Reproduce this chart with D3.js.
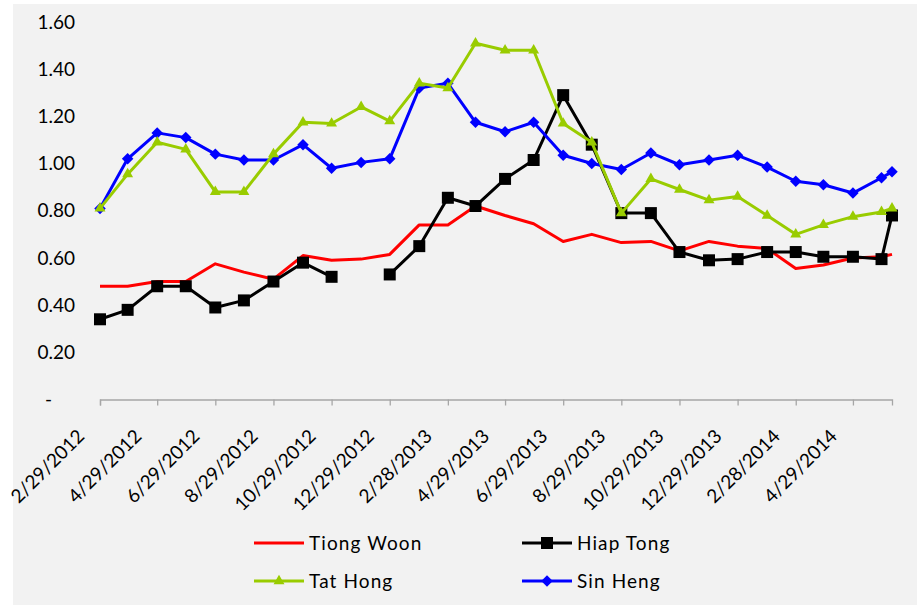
<!DOCTYPE html>
<html>
<head>
<meta charset="utf-8">
<script src="https://cdn.jsdelivr.net/npm/d3@7"></script>
<style>
  html, body { margin: 0; padding: 0; background: #fff; }
  svg { display: block; font-family: Lato, sans-serif; }
</style>
</head>
<body>
<svg width="917" height="605"></svg>
<script>
var dates = ['2/29/2012', '3/29/2012', '4/29/2012', '5/29/2012', '6/29/2012', '7/29/2012',
  '8/29/2012', '9/29/2012', '10/29/2012', '11/29/2012', '12/29/2012', '1/29/2013',
  '2/28/2013', '3/29/2013', '4/29/2013', '5/29/2013', '6/29/2013', '7/29/2013',
  '8/29/2013', '9/29/2013', '10/29/2013', '11/29/2013', '12/29/2013', '1/29/2014',
  '2/28/2014', '3/29/2014', '4/29/2014', '5/29/2014', '6/9/2014']

var tiongWoon = [0.48, 0.48, 0.50, 0.50, 0.575, 0.54, 0.51, 0.61, 0.59, 0.595, 0.615, 0.74,
  0.74, 0.82, 0.78, 0.745, 0.67, 0.70, 0.665, 0.67, 0.63, 0.67, 0.65, 0.64,
  0.555, 0.57, 0.60, 0.605, 0.615]
var hiapTong = [0.34, 0.38, 0.48, 0.48, 0.39, 0.42, 0.50, 0.58, 0.52, null, 0.53, 0.65,
  0.855, 0.82, 0.935, 1.015, 1.29, 1.08, 0.79, 0.79, 0.625, 0.59, 0.595, 0.625,
  0.625, 0.605, 0.605, 0.595, 0.78]
var tatHong = [0.81, 0.955, 1.09, 1.06, 0.88, 0.88, 1.04, 1.175, 1.17, 1.24, 1.18, 1.34,
  1.32, 1.51, 1.48, 1.48, 1.17, 1.09, 0.79, 0.935, 0.89, 0.845, 0.86, 0.78,
  0.70, 0.74, 0.775, 0.795, 0.81]
var sinHeng = [0.81, 1.02, 1.13, 1.11, 1.04, 1.015, 1.015, 1.08, 0.98, 1.005, 1.02, 1.32,
  1.34, 1.175, 1.135, 1.175, 1.035, 1.00, 0.975, 1.045, 0.995, 1.015, 1.035, 0.985,
  0.925, 0.91, 0.875, 0.94, 0.965]

var tickDates = ['2/29/2012', '4/29/2012', '6/29/2012', '8/29/2012', '10/29/2012', '12/29/2012',
  '2/28/2013', '4/29/2013', '6/29/2013', '8/29/2013', '10/29/2013', '12/29/2013',
  '2/28/2014', '4/29/2014']
var yTicks = [0, 0.2, 0.4, 0.6, 0.8, 1.0, 1.2, 1.4, 1.6]

var parse = d3.timeParse('%m/%d/%Y')
var svg = d3.select('svg')

// chart area background
svg.append('rect')
  .attr('x', 13).attr('y', 4)
  .attr('width', 904).attr('height', 601)
  .attr('fill', '#f2f2f2')

var x = d3.scaleTime()
  .domain([parse(dates[0]), parse(dates[dates.length - 1])])
  .range([100, 892])
var y = d3.scaleLinear().domain([0, 1.6]).range([399.5, 22])

// y axis, no line, accounting style zero
var yAxis = svg.append('g')
  .attr('transform', 'translate(75,0)')
  .call(d3.axisLeft(y).tickValues(yTicks).tickSize(0).tickPadding(0)
    .tickFormat(function(d) { return d === 0 ? '-' : d3.format('.2f')(d) }))
yAxis.select('.domain').remove()
yAxis.selectAll('text')
  .attr('font-size', 19).attr('font-family', 'Lato, sans-serif').attr('fill', '#000')
  .attr('x', function(d) { return d === 0 ? -23 : 0 })

// x axis
var xAxis = svg.append('g')
  .attr('transform', 'translate(0,399.5)')
  .call(d3.axisBottom(x).tickValues(tickDates.map(parse)).tickSize(6)
    .tickFormat(d3.timeFormat('%-m/%-d/%Y')))
xAxis.select('.domain').attr('stroke', '#a6a6a6').attr('stroke-width', 1.3)
xAxis.selectAll('.tick line').attr('stroke', '#a6a6a6').attr('stroke-width', 1.3)
xAxis.selectAll('text')
  .attr('font-size', 19).attr('font-family', 'Lato, sans-serif').attr('fill', '#000')
  .attr('y', 0).attr('dy', 0)
  .attr('text-anchor', 'end')
  .attr('transform', 'translate(-15,38) rotate(-45)')

var series = [
  { name: 'Tiong Woon', values: tiongWoon, color: '#ff0000', marker: null },
  { name: 'Hiap Tong', values: hiapTong, color: '#000000', marker: 'square' },
  { name: 'Sin Heng', values: sinHeng, color: '#0000ff', marker: 'diamond' },
  { name: 'Tat Hong', values: tatHong, color: '#99cc00', marker: 'triangle' }
]

function markerPath(type) {
  if (type === 'square') return d3.symbol(d3.symbolSquare, 144)()
  if (type === 'diamond') return d3.symbol(d3.symbolSquare, 66)()
  return d3.symbol(d3.symbolTriangle, 52)()
}
function markerRotate(type) {
  return type === 'diamond' ? ' rotate(45)' : ''
}

var line = d3.line()
  .defined(function(d) { return d.v != null })
  .x(function(d) { return x(d.date) })
  .y(function(d) { return y(d.v) })

series.forEach(function(s) {
  var pts = s.values.map(function(v, i) { return { date: parse(dates[i]), v: v } })
  svg.append('path')
    .datum(pts)
    .attr('fill', 'none')
    .attr('stroke', s.color)
    .attr('stroke-width', 3)
    .attr('stroke-linejoin', 'round')
    .attr('d', line)

  if (s.marker) {
    svg.append('g').selectAll('path')
      .data(pts.filter(function(d) { return d.v != null }))
      .enter().append('path')
      .attr('d', markerPath(s.marker))
      .attr('fill', s.color)
      .attr('transform', function(d) {
        return 'translate(' + x(d.date) + ',' + y(d.v) + ')' + markerRotate(s.marker)
      })
  }
})

// legend: two columns, row-major
var legendItems = [
  { s: series[0], x: 254, y: 543 },
  { s: series[1], x: 522, y: 543 },
  { s: series[3], x: 254, y: 581 },
  { s: series[2], x: 522, y: 581 }
]
var legend = svg.append('g').selectAll('g')
  .data(legendItems)
  .enter().append('g')
  .attr('transform', function(d) { return 'translate(' + d.x + ',' + d.y + ')' })

legend.append('line')
  .attr('x1', 0).attr('x2', 50)
  .attr('stroke', function(d) { return d.s.color })
  .attr('stroke-width', 3)
legend.filter(function(d) { return d.s.marker })
  .append('path')
  .attr('d', function(d) { return markerPath(d.s.marker) })
  .attr('fill', function(d) { return d.s.color })
  .attr('transform', function(d) { return 'translate(25,0)' + markerRotate(d.s.marker) })
legend.append('text')
  .attr('x', 55).attr('dy', '0.35em')
  .attr('font-size', 19)
  .attr('letter-spacing', 1.1)
  .attr('fill', '#000')
  .text(function(d) { return d.s.name })
</script>
</body>
</html>
